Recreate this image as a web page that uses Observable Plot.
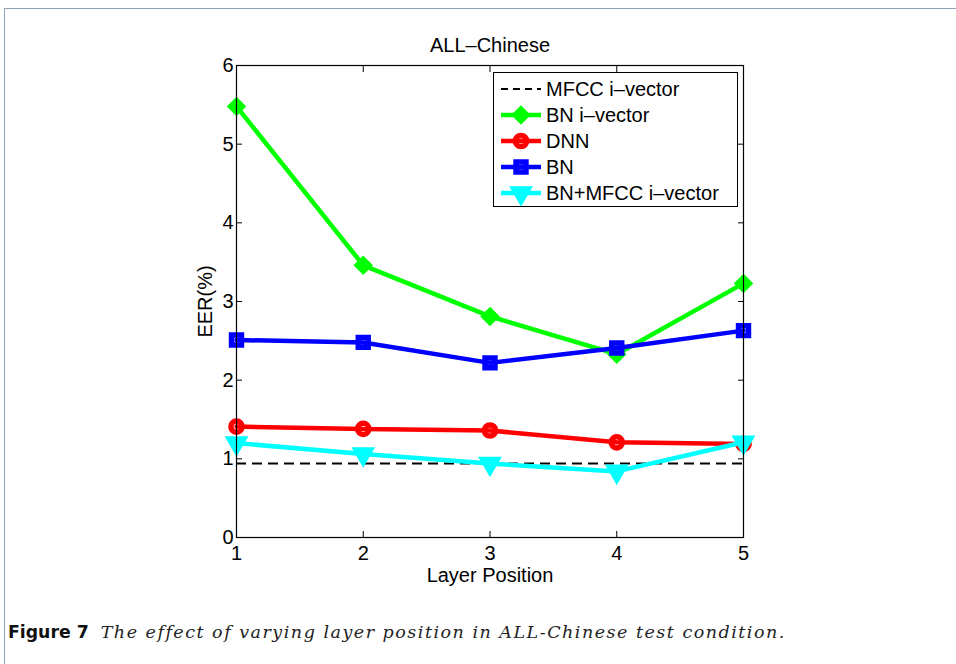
<!DOCTYPE html>
<html>
<head>
<meta charset="utf-8">
<script src="https://cdn.jsdelivr.net/npm/d3@7"></script>
<script src="https://cdn.jsdelivr.net/npm/@observablehq/plot@0.6"></script>
<style>
  html, body { margin: 0; padding: 0; background: #fff; overflow: hidden; }
  #wrap { position: relative; width: 956px; height: 664px; overflow: hidden; font-family: "Liberation Sans", Arial, sans-serif; }
  #border { position: absolute; left: 4px; top: 8px; width: 1100px; height: 1100px; border: 1.5px solid #8ea3ba; box-sizing: border-box; }
  #chart { position: absolute; left: 0; top: 0; }
  #legend { position: absolute; left: 493px; top: 72px; width: 245px; height: 135px; border: 1.5px solid #000; background: #fff; box-sizing: border-box; }
  .row { position: absolute; left: 0; height: 26px; display: flex; align-items: center; font-size: 20px; color: #000; white-space: nowrap; }
  .row svg { margin-left: 6px; margin-right: 4px; }
  #caption { position: absolute; left: 8px; top: 622px; white-space: nowrap; }
  #caption .fig { font-family: "DejaVu Sans", sans-serif; font-weight: bold; font-size: 17.3px; color: #111; }
  #caption .txt { font-family: "DejaVu Serif", serif; font-style: italic; font-size: 17.5px; letter-spacing: 1.5px; margin-left: 12px; color: #222; }
</style>
</head>
<body>
<div id="wrap">
  <div id="border"></div>
  <div id="chart"></div>
  <div id="legend"></div>
  <div id="caption"><span class="fig">Figure 7</span><span class="txt">The effect of varying layer position in ALL-Chinese test condition.</span></div>
</div>
<script>
// ---- data ----
const layers = [1, 2, 3, 4, 5];
const mfccIvector = 0.94;                          // horizontal baseline
const bnIvector = [5.48, 3.46, 2.81, 2.33, 3.23];
const dnn       = [1.41, 1.38, 1.36, 1.21, 1.19];
const bn        = [2.51, 2.48, 2.22, 2.41, 2.63];
const bnMfcc    = [1.20, 1.06, 0.94, 0.84, 1.21];
const xTicks = [1, 2, 3, 4, 5];
const yTicks = [0, 1, 2, 3, 4, 5, 6];
const seriesNames = ["MFCC i–vector", "BN i–vector", "DNN", "BN", "BN+MFCC i–vector"];
const titleText = "ALL–Chinese";
const xLabel = "Layer Position";
const yLabel = "EER(%)";

const series = [
  {name: seriesNames[1], values: bnIvector, color: "#00ff00", symbol: "diamond2", r: 5.3, rotate: 0},
  {name: seriesNames[2], values: dnn,       color: "#ff0000", symbol: "circle",   r: 5.6, rotate: 0},
  {name: seriesNames[3], values: bn,        color: "#0000ff", symbol: "square",   r: 5.6, rotate: 0},
  {name: seriesNames[4], values: bnMfcc,    color: "#00ffff", symbol: "triangle", r: 5.3, rotate: 180}
];

const font = "Liberation Sans, Arial, sans-serif";
const marks = [];
marks.push(Plot.ruleY([mfccIvector], {stroke: "#000", strokeWidth: 2, strokeDasharray: "10,6"}));
for (const s of series) {
  const rows = layers.map((x, i) => ({x, y: s.values[i]}));
  marks.push(Plot.line(rows, {x: "x", y: "y", stroke: s.color, strokeWidth: 4.5, strokeLinejoin: "miter"}));
  marks.push(Plot.dot(rows, {x: "x", y: "y", stroke: s.color, fill: "none", strokeWidth: 5.5, symbol: s.symbol, r: s.r, rotate: s.rotate}));
}
marks.push(Plot.frame({stroke: "#000", strokeWidth: 1.2}));
marks.push(Plot.axisX(xTicks, {anchor: "bottom", tickSize: -6, tickPadding: 14, fontSize: 20, label: null, tickFormat: d => String(d)}));
marks.push(Plot.axisX(xTicks, {anchor: "top", tickSize: -6, label: null, tickFormat: () => ""}));
marks.push(Plot.axisY(yTicks, {anchor: "left", tickSize: -6, tickPadding: 9, fontSize: 20, label: null, tickFormat: d => String(d)}));
marks.push(Plot.axisY(yTicks, {anchor: "right", tickSize: -6, label: null, tickFormat: () => ""}));
marks.push(Plot.text([titleText], {frameAnchor: "top", dy: -20, lineAnchor: "middle", textAnchor: "middle", fontSize: 20, text: d => d, fill: "#000"}));
marks.push(Plot.text([xLabel], {frameAnchor: "bottom", dy: 38, lineAnchor: "middle", textAnchor: "middle", fontSize: 20, text: d => d, fill: "#000"}));
marks.push(Plot.text([yLabel], {frameAnchor: "left", dx: -31, rotate: -90, lineAnchor: "middle", textAnchor: "middle", fontSize: 20, text: d => d, fill: "#000"}));

const chart = Plot.plot({
  width: 956,
  height: 600,
  marginLeft: 236,
  marginRight: 213,
  marginTop: 65,
  marginBottom: 63,
  style: {fontFamily: font, background: "transparent", color: "#000", overflow: "visible"},
  x: {domain: [1, 5]},
  y: {domain: [0, 6]},
  marks
});
document.getElementById("chart").appendChild(chart);

// ---- legend ----
const legend = document.getElementById("legend");
const legendItems = [
  {name: seriesNames[0], color: "#000", dash: true},
  ...series.map(s => ({name: s.name, color: s.color, symbol: s.symbol, r: s.r, rotate: s.rotate}))
];
const symMap = {diamond2: d3.symbolDiamond2, circle: d3.symbolCircle, square: d3.symbolSquare, triangle: d3.symbolTriangle};
legendItems.forEach((it, i) => {
  const row = document.createElement("div");
  row.className = "row";
  row.style.top = (3 + i * 26) + "px";
  const ns = "http://www.w3.org/2000/svg";
  const svg = document.createElementNS(ns, "svg");
  svg.setAttribute("width", 42); svg.setAttribute("height", 26);
  const line = document.createElementNS(ns, "line");
  line.setAttribute("x1", 1); line.setAttribute("x2", 41);
  line.setAttribute("y1", 13); line.setAttribute("y2", 13);
  line.setAttribute("stroke", it.color);
  if (it.dash) { line.setAttribute("stroke-width", 2); line.setAttribute("stroke-dasharray", "7,5"); }
  else line.setAttribute("stroke-width", 4.5);
  svg.appendChild(line);
  if (it.symbol) {
    const p = document.createElementNS(ns, "path");
    p.setAttribute("d", d3.symbol(symMap[it.symbol], Math.PI * it.r * it.r)());
    p.setAttribute("transform", `translate(21,13) rotate(${it.rotate})`);
    p.setAttribute("fill", "none");
    p.setAttribute("stroke", it.color);
    p.setAttribute("stroke-width", 5.5);
    svg.appendChild(p);
  }
  row.appendChild(svg);
  const t = document.createElement("span");
  t.textContent = it.name;
  row.appendChild(t);
  legend.appendChild(row);
});
</script>
</body>
</html>
